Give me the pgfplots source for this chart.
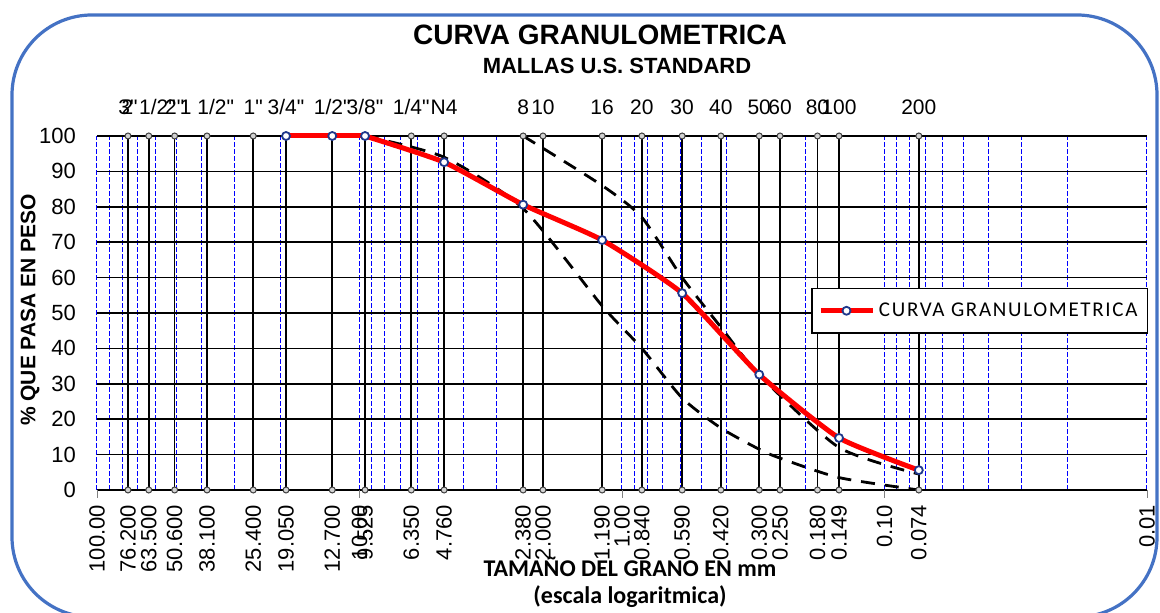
\documentclass[border=0pt]{standalone}
\usepackage{pgfplots}
\pgfplotsset{compat=1.18}
\usepackage{fontspec}
\setmainfont{Liberation Sans}
\newfontfamily\arialq[Ligatures=TeXOff]{Liberation Sans}
\newfontfamily\carlito{Carlito}
\newfontfamily\carlitols[LetterSpace=8]{Carlito}
\definecolor{bordeazul}{RGB}{68,114,196}
\definecolor{marcador}{RGB}{31,56,140}

\begin{document}
\begin{tikzpicture}
\path[use as bounding box] (0,0) rectangle (580pt,306.5pt);
% marco redondeado
\draw[bordeazul, line width=1.6pt, rounded corners=40pt] (6pt,-2pt) rectangle (578.5pt,299pt);

\begin{axis}[
  at={(48.5pt,61.5pt)}, anchor=south west,
  scale only axis, width=525pt, height=177pt,
  xmode=log, x dir=reverse,
  xmin=0.01, xmax=100, ymin=0, ymax=100,
  clip=false,
  axis line style={draw=none},
  /pgf/number format/assume math mode=true,
  tick align=outside, major tick length=4pt, minor tick length=0pt,
  xtick pos=bottom,
  xtick={0.01,0.1,1,10,100},
  xticklabels={0.01,0.10,1.00,10.00,100.00},
  minor xtick={0.02,0.03,0.04,0.05,0.06,0.07,0.08,0.09,
               0.2,0.3,0.4,0.5,0.6,0.7,0.8,0.9,
               2,3,4,5,6,7,8,9,20,30,40,50,60,70,80,90},
  extra x ticks={76.2,63.5,50.6,38.1,25.4,19.05,12.7,9.525,6.35,4.76,
                 2.38,2.0,1.19,0.84,0.59,0.42,0.30,0.25,0.18,0.149,0.074},
  extra x tick labels={76.200,63.500,50.600,38.100,25.400,19.050,12.700,9.525,6.350,4.760,
                 2.380,2.000,1.190,0.840,0.590,0.420,0.300,0.250,0.180,0.149,0.074},
  extra x tick style={grid=none, major tick style={draw=none}},
  xticklabel style={rotate=90, anchor=east, font=\fontsize{11}{12}\selectfont},
  ytick={0,10,...,100},
  ytick style={draw=none},
  yticklabel style={font=\fontsize{11}{12}\selectfont, xshift=-3pt},
  xmajorgrids, xminorgrids, ymajorgrids,
  major x grid style={blue, line width=0.5pt, dash pattern=on 2.5pt off 1pt},
  minor x grid style={blue, line width=0.5pt, dash pattern=on 2.5pt off 1pt},
  major y grid style={black, line width=0.8pt},
  legend style={at={(1.001,0.571)}, anchor=north east, draw=black, line width=0.6pt,
    font=\carlitols\fontsize{10.5}{12}\selectfont, inner xsep=3pt, inner ysep=5pt},
  legend image code/.code={\draw[#1, mark repeat=2, mark phase=2]
    plot coordinates {(0pt,0pt) (13pt,0pt) (26pt,0pt)};},
]

% tamices (lineas verticales)
\addplot[black, line width=0.8pt, mark=*, mark size=1.5pt,
  mark options={fill=gray!35, draw=gray!50!black, line width=0.5pt},
  unbounded coords=jump, forget plot] coordinates {
  (76.2,0) (76.2,100) (76.2,nan)
  (63.5,0) (63.5,100) (63.5,nan)
  (50.6,0) (50.6,100) (50.6,nan)
  (38.1,0) (38.1,100) (38.1,nan)
  (25.4,0) (25.4,100) (25.4,nan)
  (19.05,0) (19.05,100) (19.05,nan)
  (12.7,0) (12.7,100) (12.7,nan)
  (9.525,0) (9.525,100) (9.525,nan)
  (6.35,0) (6.35,100) (6.35,nan)
  (4.76,0) (4.76,100) (4.76,nan)
  (2.38,0) (2.38,100) (2.38,nan)
  (2.0,0) (2.0,100) (2.0,nan)
  (1.19,0) (1.19,100) (1.19,nan)
  (0.84,0) (0.84,100) (0.84,nan)
  (0.59,0) (0.59,100) (0.59,nan)
  (0.42,0) (0.42,100) (0.42,nan)
  (0.30,0) (0.30,100) (0.30,nan)
  (0.25,0) (0.25,100) (0.25,nan)
  (0.18,0) (0.18,100) (0.18,nan)
  (0.149,0) (0.149,100) (0.149,nan)
  (0.074,0) (0.074,100)
};

% limites (huso)
\addplot[black, line width=1.4pt, dash pattern=on 7pt off 5pt, smooth, tension=0.4, forget plot]
  coordinates {
  (9.525,100) (4.76,94) (2.38,79.5) (1.19,52) (0.84,40) (0.59,26)
  (0.42,17.5) (0.30,11.5) (0.25,9) (0.149,3.5) (0.074,0)
};
\addplot[black, line width=1.4pt, dash pattern=on 7pt off 5pt, smooth, tension=0.4, forget plot]
  coordinates {
  (2.38,100) (1.19,86) (0.84,77) (0.59,60) (0.42,46) (0.30,32.5)
  (0.149,12) (0.074,4.5)
};

% curva granulometrica
\addplot[red, line width=2.5pt, forget plot] coordinates {
  (19.05,100) (12.7,100) (9.525,100)
};
\addplot[red, line width=2.5pt, smooth, tension=0.3, mark=*, mark size=2pt,
  mark options={fill=white, draw=marcador, line width=0.9pt, solid}]
  coordinates {
  (9.525,100) (4.76,92.6) (2.38,80.6) (1.19,70.6)
  (0.59,55.6) (0.30,32.6) (0.149,14.7) (0.074,5.6)
};
\addlegendentry{CURVA GRANULOMETRICA}
\addplot[only marks, mark=*, mark size=2pt,
  mark options={fill=white, draw=marcador, line width=0.9pt}, forget plot]
  coordinates {(19.05,100) (12.7,100)};

% mallas
\tikzset{malla/.style={anchor=base, yshift=10.5pt, font=\arialq\fontsize{10.5}{12}\selectfont}}
\node[malla] at (axis cs:76.2,100) {3"};
\node[malla] at (axis cs:63.5,100) {2 1/2"};
\node[malla] at (axis cs:50.6,100) {2"};
\node[malla] at (axis cs:38.1,100) {1 1/2"};
\node[malla] at (axis cs:25.4,100) {1"};
\node[malla] at (axis cs:19.05,100) {3/4"};
\node[malla] at (axis cs:12.7,100) {1/2"};
\node[malla] at (axis cs:9.525,100) {3/8"};
\node[malla] at (axis cs:6.35,100) {1/4"};
\node[malla] at (axis cs:4.76,100) {N4};
\node[malla] at (axis cs:2.38,100) {8};
\node[malla] at (axis cs:2.0,100) {10};
\node[malla] at (axis cs:1.19,100) {16};
\node[malla] at (axis cs:0.84,100) {20};
\node[malla] at (axis cs:0.59,100) {30};
\node[malla] at (axis cs:0.42,100) {40};
\node[malla] at (axis cs:0.30,100) {50};
\node[malla] at (axis cs:0.25,100) {60};
\node[malla] at (axis cs:0.18,100) {80};
\node[malla] at (axis cs:0.149,100) {100};
\node[malla] at (axis cs:0.074,100) {200};
\end{axis}

\node[font=\bfseries\fontsize{14}{16}\selectfont] at (300pt,289pt) {CURVA GRANULOMETRICA};
\node[font=\bfseries\fontsize{11}{13}\selectfont] at (308.5pt,273.5pt) {MALLAS U.S. STANDARD};
\node[rotate=90, font=\bfseries\fontsize{10.5}{12}\selectfont] at (15pt,151.5pt) {\% QUE PASA EN PESO};
\node[font=\carlito\bfseries\fontsize{12}{14}\selectfont] at (315pt,23pt) {TAMAÑO DEL GRANO EN mm};
\node[font=\carlito\bfseries\fontsize{12}{14}\selectfont] at (315pt,8pt) {(escala logaritmica)};
\end{tikzpicture}
\end{document}
